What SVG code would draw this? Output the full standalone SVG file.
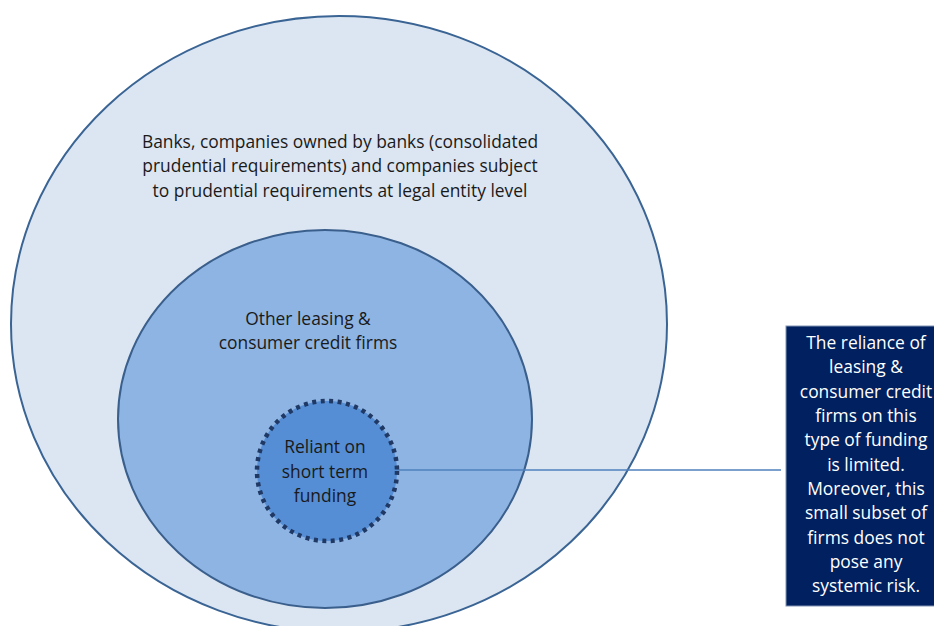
<svg xmlns="http://www.w3.org/2000/svg" width="934" height="626" viewBox="0 0 934 626">
<style>
.t{font-family:"Open Sans","Liberation Sans",sans-serif;font-size:17.4px;fill:#1a1a1a;text-anchor:middle}
.w{font-family:"Open Sans","Liberation Sans",sans-serif;font-size:17.4px;fill:#ffffff;text-anchor:middle}
</style>
<rect width="934" height="626" fill="#ffffff"/>
<g id="outer">
<ellipse cx="339" cy="324" rx="328" ry="308" fill="#dce6f2" stroke="#3a6494" stroke-width="2"/>
<text class="t" x="340" y="148">Banks, companies owned by banks (consolidated</text>
<text class="t" x="340" y="172">prudential requirements) and companies subject</text>
<text class="t" x="340" y="197">to prudential requirements at legal entity level</text>
</g>
<g id="middle">
<ellipse cx="325" cy="419" rx="207" ry="189" fill="#8eb4e3" stroke="#3a5f8c" stroke-width="2"/>
<text class="t" x="308" y="325">Other leasing &amp;</text>
<text class="t" x="308" y="349">consumer credit firms</text>
</g>
<g id="connectors">
<line x1="396" y1="470" x2="781" y2="470" stroke="#4f81bd" stroke-width="1.5"/>
</g>
<g id="inner">
<circle cx="327" cy="471" r="70" fill="#558ed5" stroke="#1f3864" stroke-width="4.5" stroke-dasharray="4 4.5"/>
<text class="t" x="325" y="453">Reliant on</text>
<text class="t" x="325" y="478">short term</text>
<text class="t" x="325" y="502">funding</text>
</g>
<g id="note">
<rect x="786" y="326" width="150" height="280" fill="#002060" stroke="#8093b3" stroke-width="1"/>
<text class="w" x="866" y="349">The reliance of</text>
<text class="w" x="866" y="373">leasing &amp;</text>
<text class="w" x="866" y="398">consumer credit</text>
<text class="w" x="866" y="422">firms on this</text>
<text class="w" x="866" y="446">type of funding</text>
<text class="w" x="866" y="471">is limited.</text>
<text class="w" x="866" y="495">Moreover, this</text>
<text class="w" x="866" y="519">small subset of</text>
<text class="w" x="866" y="544">firms does not</text>
<text class="w" x="866" y="568">pose any</text>
<text class="w" x="866" y="592">systemic risk.</text>
</g>
</svg>
